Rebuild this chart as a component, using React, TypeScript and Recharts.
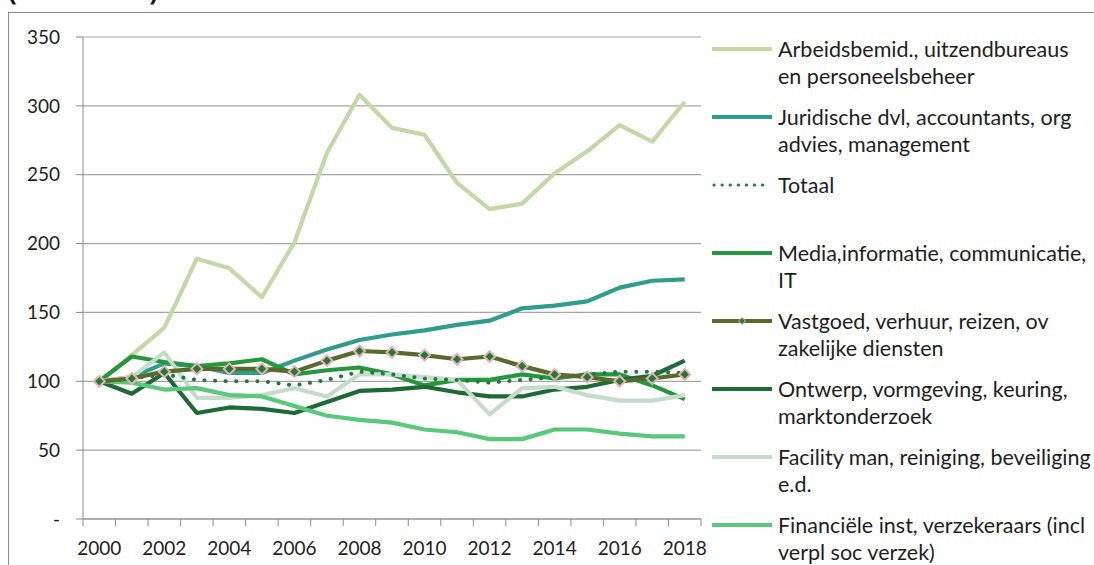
import React from "react";
import { LineChart, Line, XAxis, YAxis, CartesianGrid, Legend } from "recharts";

// index, 2000 = 100
const years = [2000, 2001, 2002, 2003, 2004, 2005, 2006, 2007, 2008, 2009, 2010, 2011, 2012, 2013, 2014, 2015, 2016, 2017, 2018];
const yearLabels = [2000, 2002, 2004, 2006, 2008, 2010, 2012, 2014, 2016, 2018];
const yTicks = [0, 50, 100, 150, 200, 250, 300, 350];

const arbeids = [100, 119, 139, 189, 182, 161, 201, 266, 308, 284, 279, 244, 225, 229, 251, 267, 286, 274, 303];
const juridisch = [100, 103, 113, 111, 106, 106, 115, 123, 130, 134, 137, 141, 144, 153, 155, 158, 168, 173, 174];
const totaal = [100, 102, 105, 101, 100, 100, 97, 101, 107, 105, 102, 101, 99, 101, 103, 105, 107, 107, 106];
const media = [100, 118, 114, 111, 113, 116, 105, 108, 110, 105, 97, 101, 101, 105, 102, 105, 105, 97, 87];
const vastgoed = [100, 102, 107, 109, 109, 109, 107, 115, 122, 121, 119, 116, 118, 111, 105, 103, 100, 102, 105];
const ontwerp = [100, 91, 106, 77, 81, 80, 77, 85, 93, 94, 96, 92, 89, 89, 94, 96, 101, 104, 115];
const facility = [100, 103, 121, 88, 88, 90, 95, 89, 105, 105, 103, 101, 76, 95, 96, 90, 86, 86, 90];
const financieel = [100, 99, 94, 95, 90, 89, 82, 75, 72, 70, 65, 63, 58, 58, 65, 65, 62, 60, 60];

const data = years.map((year, i) => ({
  year,
  arbeids: arbeids[i],
  juridisch: juridisch[i],
  totaal: totaal[i],
  media: media[i],
  vastgoed: vastgoed[i],
  ontwerp: ontwerp[i],
  facility: facility[i],
  financieel: financieel[i],
}));

// tick marks sit between the years, like Excel does
const boundaries = [...years.map((y) => y - 0.5), years[years.length - 1] + 0.5];

type Serie = { key: string; name: string[]; color: string; dotted?: boolean; marker?: boolean };

const legendOrder: Serie[] = [
  { key: "arbeids", name: ["Arbeidsbemid., uitzendbureaus", "en personeelsbeheer"], color: "#c4d8a6" },
  { key: "juridisch", name: ["Juridische dvl, accountants, org", "advies, management"], color: "#2f9d8b" },
  { key: "totaal", name: ["Totaal"], color: "#1f7a3c", dotted: true },
  { key: "media", name: ["Media,informatie, communicatie,", "IT"], color: "#20993a" },
  { key: "vastgoed", name: ["Vastgoed, verhuur, reizen, ov", "zakelijke diensten"], color: "#5a6a2c", marker: true },
  { key: "ontwerp", name: ["Ontwerp, vormgeving, keuring,", "marktonderzoek"], color: "#1c6b35" },
  { key: "facility", name: ["Facility man, reiniging, beveiliging", "e.d."], color: "#c5dccb" },
  { key: "financieel", name: ["Financiële inst, verzekeraars (incl", "verpl soc verzek)"], color: "#57c979" },
];

// draw order: vastgoed last so the markers stay on top
const drawOrder = ["arbeids", "juridisch", "media", "ontwerp", "facility", "financieel", "totaal", "vastgoed"];

const font = "Lato, 'Open Sans', sans-serif";
const textColor = "#1e1e1e";

const Diamond = (props: any) => {
  const { cx, cy } = props;
  if (cx == null || cy == null) return null;
  const r = 5.5;
  return (
    <path
      d={`M${cx},${cy - r} L${cx + r},${cy} L${cx},${cy + r} L${cx - r},${cy} Z`}
      fill="#1f7a3c"
      stroke="#e7b0b4"
      strokeWidth={2}
    />
  );
};

const Swatch = ({ s }: { s: Serie }) => (
  <svg width={60} height={10} style={{ display: "block" }}>
    {s.dotted ? (
      <line x1={2} y1={5} x2={58} y2={5} stroke={s.color} strokeWidth={3.2} strokeDasharray="0.1 8" strokeLinecap="round" />
    ) : (
      <line x1={0} y1={5} x2={60} y2={5} stroke={s.color} strokeWidth={4} strokeLinecap="round" />
    )}
    {s.marker && <path d="M30,1.5 L33.5,5 L30,8.5 L26.5,5 Z" fill="#1f7a3c" stroke="#e7b0b4" strokeWidth={1} />}
  </svg>
);

const renderLegend = () => (
  <div style={{ fontFamily: font, fontSize: 21.5, color: textColor, lineHeight: "26.5px" }}>
    {legendOrder.map((s) => (
      <div key={s.key} style={{ height: 68, display: "flex", alignItems: "flex-start" }}>
        <div style={{ width: 66, paddingTop: 8 }}>
          <Swatch s={s} />
        </div>
        <div>
          {s.name.map((t) => (
            <div key={t} style={{ whiteSpace: "nowrap" }}>{t}</div>
          ))}
        </div>
      </div>
    ))}
  </div>
);

export default function App() {
  return (
    <div style={{ position: "fixed", left: 0, top: 0, width: 1094, height: 565, overflow: "hidden", background: "#fff" }}>
      <div
        style={{
          position: "absolute",
          left: 8,
          top: -25,
          fontFamily: "'Open Sans', sans-serif",
          fontWeight: 700,
          fontSize: 26,
          lineHeight: "30px",
          color: "#111",
          whiteSpace: "nowrap",
        }}
      >
        (2000 = 100)
      </div>
      <div style={{ position: "absolute", left: 8, top: 12, width: 1200, height: 700, border: "1px solid #8c8c8c" }} />
      <div style={{ position: "absolute", left: 0, top: 0 }}>
        <LineChart width={1094} height={565} data={data} margin={{ top: 37, right: 11, bottom: 0, left: 0 }}>
          <CartesianGrid horizontal vertical={false} stroke="#a6a6a6" strokeWidth={1.2} />
          <XAxis
            dataKey="year"
            type="number"
            domain={[boundaries[0], boundaries[boundaries.length - 1]]}
            ticks={boundaries}
            tickFormatter={() => ""}
            tickSize={7}
            height={8}
            stroke="#8a8a8a"
            allowDataOverflow
          />
          <XAxis
            xAxisId="labels"
            dataKey="year"
            type="number"
            domain={[boundaries[0], boundaries[boundaries.length - 1]]}
            ticks={yearLabels}
            axisLine={false}
            tickLine={false}
            tickMargin={9}
            height={38}
            tick={{ fontSize: 19, fill: textColor, fontFamily: font }}
            allowDataOverflow
          />
          <YAxis
            domain={[0, 350]}
            ticks={yTicks}
            width={83}
            tickSize={7}
            tickMargin={16}
            stroke="#8a8a8a"
            tickFormatter={(v: number) => (v === 0 ? "-" : String(v))}
            tick={{ fontSize: 19, fill: textColor, fontFamily: font }}
          />
          <Legend
            layout="vertical"
            align="right"
            verticalAlign="top"
            width={382}
            content={renderLegend}
            wrapperStyle={{ left: 712, top: 36, width: 382 }}
          />
          {drawOrder.map((k) => {
            const s = legendOrder.find((x) => x.key === k)!;
            return (
              <Line
                key={k}
                dataKey={k}
                name={s.name.join(" ")}
                stroke={s.color}
                strokeWidth={s.dotted ? 4 : 4.2}
                strokeDasharray={s.dotted ? "0.1 10.5" : undefined}
                strokeLinecap={s.dotted ? "round" : "butt"}
                strokeLinejoin="round"
                dot={s.marker ? <Diamond /> : false}
                activeDot={false}
                type="linear"
                isAnimationActive={false}
              />
            );
          })}
        </LineChart>
      </div>
    </div>
  );
}
